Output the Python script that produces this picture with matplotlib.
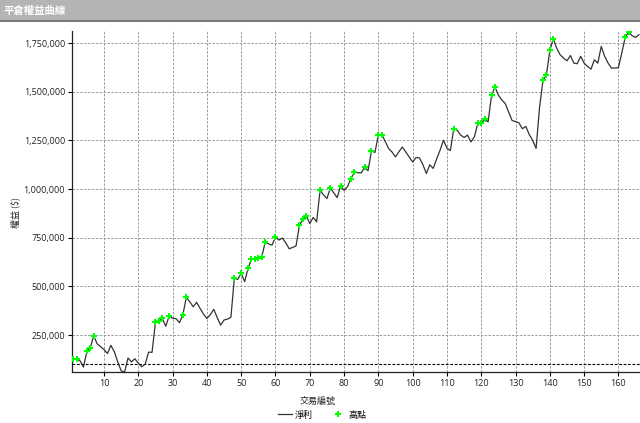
import numpy as np
import matplotlib
matplotlib.use("Agg")
import matplotlib.pyplot as plt
from matplotlib.lines import Line2D
from matplotlib.patches import Rectangle
from matplotlib.ticker import FuncFormatter

# ========================
# データ
# ========================
TITLE = "平倉權益曲線"
XLABEL = "交易編號"
YLABEL = "權益 ($)"
LEGEND_LABELS = ["淨利", "高點"]
START_CAPITAL = 100000

equity = [
    125000, 127000, 118000, 85000, 166000, 185000, 245000, 205000, 190000, 175000,
    155000, 197000, 164000, 112000, 66000, 60000, 132000, 112000, 128000, 105000,
    87000, 100000, 162000, 161000, 316000, 323000, 335000, 295000, 348000, 336000,
    334000, 313000, 355000, 443000, 421000, 395000, 418000, 387000, 358000, 335000,
    355000, 382000, 340000, 301000, 327000, 332000, 341000, 541000, 536000, 567000,
    524000, 592000, 640000, 643000, 646000, 652000, 727000, 718000, 712000, 753000,
    738000, 748000, 724000, 693000, 700000, 708000, 815000, 844000, 862000, 823000,
    854000, 832000, 993000, 970000, 951000, 1006000, 980000, 956000, 1017000, 993000,
    1012000, 1054000, 1085000, 1084000, 1083000, 1111000, 1094000, 1197000, 1188000, 1277000,
    1280000, 1245000, 1208000, 1190000, 1165000, 1192000, 1216000, 1190000, 1165000, 1139000,
    1162000, 1160000, 1125000, 1080000, 1125000, 1106000, 1155000, 1200000, 1251000, 1210000,
    1198000, 1311000, 1302000, 1277000, 1265000, 1277000, 1242000, 1268000, 1337000, 1340000,
    1359000, 1345000, 1481000, 1524000, 1483000, 1457000, 1440000, 1395000, 1352000, 1347000,
    1340000, 1310000, 1322000, 1280000, 1250000, 1209000, 1418000, 1558000, 1584000, 1712000,
    1772000, 1724000, 1690000, 1673000, 1659000, 1686000, 1647000, 1644000, 1682000, 1647000,
    1630000, 1616000, 1664000, 1647000, 1733000, 1682000, 1647000, 1621000, 1622000, 1624000,
    1700000, 1781000, 1805000, 1788000, 1779000, 1793000,
]

yticks = [250000, 500000, 750000, 1000000, 1250000, 1500000, 1750000]
xticks = list(range(10, 161, 10))

# ========================
# 計算（新高値）
# ========================
eq = np.array(equity)
trades = np.arange(1, len(eq) + 1)
prev_max = np.concatenate([[-np.inf], np.maximum.accumulate(eq)[:-1]])
is_high = eq > prev_max

# ========================
# 描画
# ========================
FONT = ["Open Sans", "Noto Sans CJK TC", "DejaVu Sans"]
CJK = ["Noto Sans CJK TC", "DejaVu Sans"]
plt.rcParams["font.family"] = FONT

fig = plt.figure(figsize=(6.4, 4.23), dpi=100)

# タイトルバー
fig.patches.append(Rectangle((0, 1 - 20.5 / 423), 1, 20.5 / 423, transform=fig.transFigure,
                             facecolor="#b4b4b4", edgecolor="none", zorder=0))
fig.patches.append(Rectangle((0, 1 - 22 / 423), 1, 1.5 / 423, transform=fig.transFigure,
                             facecolor="#7a7a7a", edgecolor="none", zorder=0))
fig.text(4 / 640, 1 - 10.5 / 423, TITLE, color="white", fontsize=7.5, fontweight="bold",
         family=CJK, va="center", ha="left")

ax = fig.add_axes([72 / 640, 51 / 423, 568 / 640, 341 / 423])

ax.plot(trades, eq, color="#333333", linewidth=0.9, zorder=3)
ax.plot(trades[is_high], eq[is_high], linestyle="none", marker="P", markersize=4,
        color="#00ff00", markeredgewidth=0, zorder=4)
ax.axhline(START_CAPITAL, color="black", linewidth=0.8, linestyle=(0, (2.5, 1.5)), zorder=2)

ax.set_xlim(0.66, 166.3)
ax.set_ylim(60000, 1812000)
ax.set_xticks(xticks)
ax.set_yticks(yticks)
ax.yaxis.set_major_formatter(FuncFormatter(lambda v, p: f"{int(v):,}"))
ax.tick_params(axis="both", labelsize=6.5, length=3, width=0.8, colors="black",
               labelcolor="#222222", pad=2)
ax.grid(True, color="#9a9a9a", linewidth=0.7, linestyle=(0, (2.5, 1.5)))
ax.set_axisbelow(True)

for s in ["top", "right"]:
    ax.spines[s].set_visible(False)
for s in ["left", "bottom"]:
    ax.spines[s].set_linewidth(0.9)
    ax.spines[s].set_color("#222222")

fig.text(15 / 640, 1 - 212 / 423, YLABEL, rotation=90, fontsize=6.5, family=CJK,
         ha="center", va="center", color="#222222")
fig.text(318 / 640, 1 - 401 / 423, XLABEL, fontsize=6.5, family=CJK,
         ha="center", va="center", color="#222222")

handles = [
    Line2D([0], [0], color="#333333", linewidth=0.9),
    Line2D([0], [0], linestyle="none", marker="P", markersize=4, color="#00ff00",
           markeredgewidth=0),
]
fig.legend(handles, LEGEND_LABELS, loc="center", bbox_to_anchor=(322 / 640, 1 - 415 / 423),
           ncol=2, frameon=False, prop={"family": CJK, "size": 6.5},
           handlelength=1.6, handletextpad=0.3, columnspacing=2.0)

fig.savefig("out.png", dpi=100)
